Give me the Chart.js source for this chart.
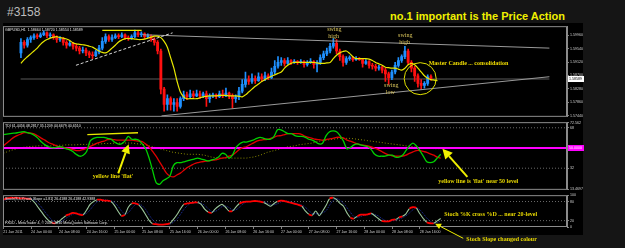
<!DOCTYPE html>
<html lang="en">
<head>
<meta charset="UTF-8">
<title>GBPUSD H1 - price action</title>
<script src="https://cdn.jsdelivr.net/npm/chart.js"></script>
<style>
  body { margin: 0; width: 625px; height: 248px; overflow: hidden; position: relative; background: #151515; font-family: "Liberation Sans", Arial, sans-serif; }
  #frame { position: absolute; left: 3px; top: 23px; width: 580px; height: 212px; background: #000; }
  canvas { position: absolute; left: 0; }
  #hdr { position: absolute; left: 7px; top: 6px; line-height: 12px; font-size: 12px; color: #bdbdbd; }
  #ttl { position: absolute; left: 390px; top: 11px; line-height: 11px; font-size: 11px; font-weight: bold; color: #f0f000; white-space: nowrap; }
</style>
</head>
<body>
<div id="hdr">#3158</div>
<div id="ttl">no.1 important is the Price Action</div>
<div id="frame"></div>
<canvas id="price" width="625" height="97" style="top:23px"></canvas>
<canvas id="tdi" width="625" height="74" style="top:119px"></canvas>
<canvas id="stoch" width="625" height="56" style="top:192px"></canvas>
<script>
// GBPUSD H1, 21 Jan 16:00 .. 28 Jan 22:00 (one entry per bar)
const open = [
  1.5941,1.5974,1.5965,1.5983,1.5989,1.5995,1.5992,1.5998,1.6004,1.5995,
  1.5998,1.5989,1.5983,1.5986,1.5974,1.5965,1.5971,1.5962,1.5956,1.5947,
  1.5950,1.5941,1.5935,1.5932,1.5944,1.5956,1.5977,1.5992,1.5983,1.5989,
  1.5995,1.5992,1.5998,1.5989,1.5986,1.5992,1.6004,1.5998,1.6001,1.5992,
  1.5995,1.5983,1.5974,1.5947,1.5827,1.5779,1.5797,1.5779,1.5785,1.5773,
  1.5797,1.5809,1.5803,1.5812,1.5806,1.5812,1.5806,1.5812,1.5797,1.5806,
  1.5809,1.5803,1.5812,1.5806,1.5815,1.5806,1.5797,1.5803,1.5821,1.5842,
  1.5857,1.5851,1.5860,1.5854,1.5866,1.5860,1.5869,1.5863,1.5881,1.5899,
  1.5911,1.5917,1.5908,1.5917,1.5911,1.5914,1.5911,1.5914,1.5905,1.5911,
  1.5914,1.5905,1.5911,1.5926,1.5938,1.5947,1.5962,1.5971,1.5947,1.5929,
  1.5911,1.5923,1.5926,1.5920,1.5923,1.5920,1.5908,1.5914,1.5902,1.5899,
  1.5893,1.5896,1.5887,1.5875,1.5863,1.5881,1.5902,1.5917,1.5929,1.5947,
  1.5911,1.5893,1.5869,1.5845,1.5839,1.5845,1.58664];
const high = [
  1.5986,1.5980,1.5989,1.5995,1.6001,1.6001,1.6004,1.6010,1.6007,1.6004,
  1.6001,1.5995,1.5992,1.5989,1.5980,1.5977,1.5974,1.5968,1.5962,1.5959,
  1.5956,1.5947,1.5944,1.5950,1.5965,1.5989,1.6001,1.5998,1.5998,1.6001,
  1.6001,1.6004,1.6001,1.5995,1.5998,1.6013,1.6010,1.6007,1.6004,1.6001,
  1.5998,1.5989,1.5980,1.5953,1.5833,1.5809,1.5803,1.5797,1.5797,1.5803,
  1.5821,1.5818,1.5824,1.5821,1.5824,1.5821,1.5818,1.5821,1.5812,1.5815,
  1.5812,1.5821,1.5824,1.5830,1.5818,1.5812,1.5809,1.5833,1.5857,1.5881,
  1.5869,1.5875,1.5869,1.5878,1.5875,1.5881,1.5875,1.5893,1.5917,1.5929,
  1.5926,1.5923,1.5926,1.5920,1.5920,1.5917,1.5920,1.5917,1.5917,1.5923,
  1.5917,1.5917,1.5935,1.5947,1.5956,1.5971,1.5986,1.5983,1.5953,1.5935,
  1.5929,1.5932,1.5929,1.5929,1.5926,1.5923,1.5920,1.5917,1.5908,1.5905,
  1.5902,1.5899,1.5893,1.5881,1.5887,1.5911,1.5926,1.5935,1.5962,1.5953,
  1.5917,1.5899,1.5875,1.5857,1.5851,1.5872,1.58720];
const low = [
  1.5926,1.5956,1.5959,1.5974,1.5983,1.5986,1.5989,1.5995,1.5989,1.5989,
  1.5983,1.5974,1.5977,1.5965,1.5956,1.5962,1.5953,1.5947,1.5938,1.5941,
  1.5932,1.5926,1.5923,1.5929,1.5938,1.5950,1.5971,1.5977,1.5977,1.5986,
  1.5986,1.5989,1.5983,1.5980,1.5983,1.5989,1.5992,1.5992,1.5986,1.5989,
  1.5977,1.5965,1.5938,1.5812,1.5758,1.5761,1.5761,1.5758,1.5758,1.5767,
  1.5791,1.5794,1.5797,1.5800,1.5803,1.5797,1.5800,1.5773,1.5785,1.5800,
  1.5797,1.5800,1.5800,1.5803,1.5797,1.5767,1.5785,1.5794,1.5815,1.5833,
  1.5842,1.5845,1.5845,1.5851,1.5851,1.5854,1.5857,1.5860,1.5875,1.5893,
  1.5902,1.5899,1.5905,1.5905,1.5908,1.5905,1.5908,1.5896,1.5899,1.5908,
  1.5893,1.5881,1.5905,1.5920,1.5932,1.5941,1.5956,1.5938,1.5917,1.5899,
  1.5905,1.5917,1.5914,1.5917,1.5917,1.5896,1.5905,1.5893,1.5890,1.5884,
  1.5887,1.5878,1.5851,1.5842,1.5857,1.5875,1.5896,1.5911,1.5923,1.5905,
  1.5881,1.5851,1.5833,1.5827,1.5830,1.5839,1.58554];
const close = [
  1.5974,1.5965,1.5983,1.5989,1.5995,1.5992,1.5998,1.6004,1.5995,1.5998,
  1.5989,1.5983,1.5986,1.5974,1.5965,1.5971,1.5962,1.5956,1.5947,1.5950,
  1.5941,1.5935,1.5932,1.5944,1.5956,1.5977,1.5992,1.5983,1.5989,1.5995,
  1.5992,1.5998,1.5989,1.5986,1.5992,1.6004,1.5998,1.6001,1.5992,1.5995,
  1.5983,1.5974,1.5947,1.5827,1.5779,1.5797,1.5779,1.5785,1.5773,1.5797,
  1.5809,1.5803,1.5812,1.5806,1.5812,1.5806,1.5812,1.5797,1.5806,1.5809,
  1.5803,1.5812,1.5806,1.5815,1.5806,1.5797,1.5803,1.5821,1.5842,1.5857,
  1.5851,1.5860,1.5854,1.5866,1.5860,1.5869,1.5863,1.5881,1.5899,1.5911,
  1.5917,1.5908,1.5917,1.5911,1.5914,1.5911,1.5914,1.5905,1.5911,1.5914,
  1.5905,1.5911,1.5926,1.5938,1.5947,1.5962,1.5971,1.5947,1.5929,1.5911,
  1.5923,1.5926,1.5920,1.5923,1.5920,1.5908,1.5914,1.5902,1.5899,1.5893,
  1.5896,1.5887,1.5875,1.5863,1.5881,1.5902,1.5917,1.5929,1.5947,1.5911,
  1.5893,1.5869,1.5845,1.5839,1.5845,1.5866,1.58589];
// yellow moving average (runs two bars past the last candle)
const ma = [
  1.5908,1.5920,1.5929,1.5938,1.5947,1.5956,1.5968,1.5977,1.5983,1.59875,
  1.59905,1.5992,1.5989,1.59875,1.59845,1.5980,1.59725,1.59695,1.5968,1.59665,
  1.5965,1.5962,1.5959,1.5953,1.5947,1.59425,1.5941,1.5947,1.5956,1.5965,
  1.59755,1.59815,1.5986,1.5986,1.5986,1.59845,1.5983,1.5983,1.59845,1.59875,
  1.59905,1.59935,1.59935,1.5989,1.5977,1.5959,1.5926,1.5893,1.5851,1.5818,
  1.5803,1.5797,1.5797,1.5797,1.5797,1.5800,1.5803,1.58045,1.5806,1.5806,
  1.5806,1.58075,1.58075,1.58075,1.5806,1.5806,1.5806,1.58045,1.5803,1.5809,
  1.5818,1.5827,1.5836,1.58435,1.5851,1.5857,1.5863,1.58675,1.5872,1.58765,
  1.5881,1.5893,1.5902,1.5908,1.5911,1.5911,1.5911,1.5911,1.5911,1.5911,
  1.5911,1.59095,1.5908,1.5908,1.59095,1.5911,1.5923,1.59335,1.5941,1.59455,
  1.5947,1.59395,1.5929,1.5923,1.5923,1.5923,1.5923,1.59215,1.5917,1.5911,
  1.59065,1.5902,1.5896,1.58945,1.5893,1.5893,1.5890,1.5887,1.5893,1.59035,
  1.5908,1.59035,1.5893,1.5881,1.5869,1.58615,1.5857,1.58555,1.5854];

// TDI: RSI price line (green), trade signal (red), market base line (dotted)
const tdiGreen = [
  62.0,62.4,62.8,63.2,63.6,64.1,64.5,63.6,62.8,61.1,
  58.6,55.3,52.8,51.1,50.3,50.3,51.1,50.7,49.4,48.6,
  46.9,44.4,42.7,43.6,46.9,56.1,58.6,59.5,59.5,59.5,
  58.6,57.8,55.3,53.6,53.6,56.1,60.3,57.8,57.8,57.0,
  53.6,49.4,41.0,30.1,19.3,17.6,20.9,22.6,25.1,34.3,
  36.9,36.9,37.7,38.5,39.4,40.2,41.0,40.2,39.4,38.5,
  39.4,40.2,41.9,45.2,44.4,41.0,43.6,50.3,53.6,55.3,
  55.3,56.1,57.0,58.6,59.5,58.6,57.8,57.8,60.3,66.2,
  66.2,64.5,62.8,62.8,61.1,60.3,60.3,59.5,57.8,57.0,
  55.3,53.6,54.4,61.1,64.5,65.3,64.5,61.1,56.1,49.4,
  50.3,52.8,53.6,52.8,51.9,51.1,48.6,44.4,42.7,42.7,
  42.7,43.6,43.6,41.9,41.9,43.6,47.7,51.9,54.4,51.9,
  47.7,42.7,37.7,36.9,37.7,41.0,44.4];
const tdiRed = [
  51.9,54.4,57.0,59.5,61.1,62.4,63.6,63.6,63.2,62.4,
  60.7,58.6,57.0,54.9,53.6,52.4,51.1,50.7,49.8,49.4,
  48.6,47.7,47.7,48.6,49.8,51.5,52.8,54.4,55.3,56.1,
  57.4,57.8,57.4,57.0,57.0,57.0,57.0,57.0,56.5,56.1,
  55.7,53.6,51.1,46.9,42.7,37.7,32.7,27.6,25.1,24.3,
  26.0,27.6,30.1,32.7,34.3,36.0,36.9,37.7,38.1,38.5,
  39.0,39.4,40.2,41.0,41.5,42.7,43.6,46.1,48.6,50.3,
  51.1,52.8,54.4,56.1,57.0,57.4,57.8,58.6,59.5,60.7,
  61.1,62.0,62.8,62.8,62.8,62.8,62.0,60.3,59.5,58.6,
  57.8,57.4,57.0,57.4,58.2,58.6,59.5,59.5,59.0,57.0,
  56.1,54.9,53.6,52.8,52.4,51.9,51.1,49.8,48.6,46.9,
  45.2,44.0,43.1,42.7,42.7,42.7,43.6,45.2,46.5,47.7,
  47.7,46.9,46.1,44.8,43.6,41.9,41.0];
const tdiBase = [
  45.2,46.5,47.7,48.6,49.4,50.3,50.7,51.1,51.5,51.5,
  51.9,51.9,51.9,51.9,51.9,52.4,52.4,52.4,52.8,52.8,
  52.8,52.8,53.2,53.2,53.2,53.6,53.6,53.6,53.6,54.0,
  54.0,54.0,54.4,54.4,54.4,54.4,54.4,54.4,54.0,53.6,
  53.2,52.8,51.9,51.1,50.3,49.4,48.6,47.7,46.9,46.1,
  45.7,45.2,44.8,44.4,44.4,44.4,44.4,44.0,43.6,42.7,
  41.9,41.5,41.0,41.0,41.0,41.0,41.0,41.0,41.0,41.0,
  41.0,41.5,41.9,42.7,43.6,44.8,46.1,46.9,47.7,48.6,
  49.4,50.3,51.1,51.5,51.9,52.8,53.2,53.6,54.0,54.4,
  55.3,56.1,56.5,57.0,57.4,57.8,58.2,58.6,58.6,58.6,
  58.6,58.2,57.8,57.4,57.0,56.5,56.1,55.7,55.3,54.9,
  54.4,54.0,53.6,53.2,52.8,52.4,51.9,51.5,51.1,50.7,
  50.3,50.3,49.8,49.8,49.4,49.4,49.4];

// Stochastic %K and %D
const stochK = [
  85.8,90.2,91.7,91.7,91.7,90.2,90.2,88.8,87.3,76.9,
  62.1,47.3,32.5,20.7,13.3,11.8,17.8,26.6,35.5,39.9,
  44.4,42.9,38.5,38.5,53.3,71.0,79.9,85.8,85.8,82.9,
  82.9,79.9,68.1,50.3,35.5,38.5,62.1,74.0,74.0,69.5,
  56.2,38.5,20.7,10.4,8.9,7.4,7.4,8.9,11.8,23.7,
  38.5,56.2,71.0,74.0,75.5,76.9,76.9,71.0,56.2,47.3,
  44.4,56.2,65.1,71.0,62.1,50.3,50.3,62.1,74.0,78.4,
  79.9,79.9,81.4,81.4,79.9,76.9,71.0,65.1,74.0,79.9,
  82.9,81.4,78.4,75.5,72.5,69.5,65.1,50.3,39.9,37.0,
  50.3,35.5,50.3,68.1,88.8,91.7,85.8,74.0,65.1,44.4,
  29.6,26.6,34.0,38.5,38.5,39.9,42.9,35.5,26.6,19.2,
  17.8,17.8,22.2,23.7,29.6,34.0,41.4,57.7,62.1,59.2,
  41.4,26.6,14.8,11.8,11.8,19.2,26.6];
const stochD = [
  84,86,89,91,91,91,91,90,89,84,
  75,62,47,34,22,15,14,19,27,34,
  40,42,42,40,43,54,68,79,84,85,
  84,82,77,66,51,41,45,58,70,73,
  67,55,38,23,13,9,8,8,9,15,
  25,39,55,67,74,76,76,75,68,58,
  49,49,55,64,66,61,54,54,62,72,
  78,80,80,81,81,79,76,70,70,73,
  79,81,81,78,75,72,69,62,52,42,
  42,41,45,51,69,83,89,84,75,61,
  46,33,30,33,37,39,41,39,35,27,
  21,18,20,21,25,29,35,44,54,60,
  54,42,28,18,13,14,19];

// axis labels
const dateLabels = ['21 Jan 2011','24 Jan 00:00','24 Jan 08:00','24 Jan 16:00','25 Jan 00:00','25 Jan 08:00',
  '25 Jan 16:00','26 Jan 00:00','26 Jan 08:00','26 Jan 16:00','27 Jan 00:00','27 Jan 08:00','27 Jan 16:00',
  '28 Jan 00:00','28 Jan 08:00','28 Jan 16:00'];
const dateTickBars = [0, 8, 16, 24, 32, 40, 48, 56, 64, 72, 80, 88, 96, 104, 112, 120];
const priceTicks = [1.5744, 1.5786, 1.5828, 1.5870, 1.5912, 1.5954, 1.5996];
const tdiTicks = [13.4697, 32, 68, 72.562];
const stochTicks = [0, 20, 80, 100];
const lastPrice = 1.58589;

const X_MIN = -0.1, X_MAX = 162.4;
const BULL = '#1e90ff', BEAR = '#ff1010';
const AXIS_FONT = { family: 'Liberation Sans', size: 3.6 };
const SMALL = '3.6px "Liberation Sans"';
const NOTE = 'bold 6px "Liberation Serif"';

const bars = close.map((c, i) => i);
const series = arr => arr.map((v, i) => ({ x: i, y: v }));
const level = v => [{ x: X_MIN, y: v }, { x: X_MAX, y: v }];

function xAxis(show) {
  return {
    type: 'linear', min: X_MIN, max: X_MAX, display: show,
    afterBuildTicks: s => { s.ticks = dateTickBars.map(v => ({ value: v })); },
    afterFit: s => { if (show) s.height = 21; },
    grid: { display: true, drawOnChartArea: false, tickLength: 2, color: '#808080' },
    border: { display: false },
    ticks: { color: '#cfcfcf', font: AXIS_FONT, align: 'start', padding: 1, maxRotation: 0, autoSkip: false,
             callback: (v, i) => dateLabels[i] }
  };
}

function yAxis(min, max, ticks, fmt) {
  return {
    position: 'right', min, max,
    afterBuildTicks: s => { s.ticks = ticks.map(v => ({ value: v })); },
    afterFit: s => { s.width = 16; },
    grid: { display: true, drawOnChartArea: false, tickLength: 2, color: '#808080' },
    border: { display: true, color: '#8a8a8a' },
    ticks: { color: '#cfcfcf', font: AXIS_FONT, padding: 1, autoSkip: false, crossAlign: 'near', callback: fmt }
  };
}

// panel frame
const framePlugin = {
  id: 'frame',
  afterDraw(chart) {
    const { ctx, chartArea: a } = chart;
    ctx.save();
    ctx.strokeStyle = '#8c8c8c';
    ctx.lineWidth = 1;
    ctx.strokeRect(a.left + 0.5, a.top + 0.5, a.width - 1, a.height - 1);
    ctx.restore();
  }
};

// hand-drawn notes, positioned in data units
const notesPlugin = {
  id: 'notes',
  afterDraw(chart, args, opts) {
    const { ctx, chartArea: a, scales: { x, y } } = chart;
    ctx.save();
    for (const n of opts.items || []) {
      const px = x.getPixelForValue(n.x), py = y.getPixelForValue(n.y);
      if (n.type === 'text') {
        ctx.font = n.font; ctx.fillStyle = n.color;
        ctx.textAlign = n.align || 'left'; ctx.textBaseline = 'middle';
        ctx.fillText(n.text, px, py);
      } else if (n.type === 'circle') {
        ctx.strokeStyle = n.color; ctx.lineWidth = 1;
        ctx.beginPath(); ctx.arc(px, py, n.r, 0, Math.PI * 2); ctx.stroke();
      } else if (n.type === 'arrow') {
        const tx = x.getPixelForValue(n.x2), ty = y.getPixelForValue(n.y2);
        const ang = Math.atan2(ty - py, tx - px);
        const bx = tx - Math.cos(ang) * n.head, by = ty - Math.sin(ang) * n.head;
        ctx.strokeStyle = n.color; ctx.fillStyle = n.color; ctx.lineWidth = n.width;
        ctx.beginPath(); ctx.moveTo(px, py); ctx.lineTo(bx, by); ctx.stroke();
        ctx.beginPath(); ctx.moveTo(tx, ty);
        ctx.lineTo(bx + Math.sin(ang) * n.half, by - Math.cos(ang) * n.half);
        ctx.lineTo(bx - Math.sin(ang) * n.half, by + Math.cos(ang) * n.half);
        ctx.closePath(); ctx.fill();
      } else if (n.type === 'tag') {
        ctx.fillStyle = n.bg; ctx.fillRect(a.right + 1, py - 3, 16, 6);
        ctx.font = SMALL; ctx.fillStyle = n.color;
        ctx.textAlign = 'left'; ctx.textBaseline = 'middle';
        ctx.fillText(n.text, a.right + 2, py);
      } else if (n.type === 'caption') {
        ctx.font = SMALL; ctx.fillStyle = '#e8e8e8';
        ctx.textAlign = 'left'; ctx.textBaseline = 'top';
        ctx.fillText(n.text, a.left + 2, n.bottom ? a.bottom - 6 : a.top + 2);
      }
    }
    ctx.restore();
  }
};

function options(showX, yScale, padBottom, items) {
  return {
    responsive: false, animation: false, events: [], devicePixelRatio: 1,
    layout: { padding: { left: 3, right: 42, top: 1, bottom: padBottom } },
    scales: { x: xAxis(showX), y: yScale },
    plugins: { legend: { display: false }, tooltip: { enabled: false }, notes: { items } }
  };
}

const lineStyle = { type: 'line', pointRadius: 0, fill: false, order: 1 };

// ---------- price window ----------
new Chart(document.getElementById('price'), {
  type: 'bar',
  data: {
    datasets: [
      { data: bars.map(i => ({ x: i, y: [low[i], high[i]] })), barThickness: 1, grouped: false, order: 3,
        backgroundColor: bars.map(i => close[i] >= open[i] ? BULL : BEAR) },
      { data: bars.map(i => ({ x: i, y: [open[i], close[i]] })), barThickness: 2.2, grouped: false, order: 2, minBarLength: 1,
        backgroundColor: bars.map(i => close[i] >= open[i] ? BULL : BEAR) },
      { ...lineStyle, data: level(lastPrice), borderColor: '#5a5a5a', borderWidth: 1, order: 4 },
      { ...lineStyle, data: series(ma), borderColor: '#e8e800', borderWidth: 1.2, tension: 0.3 },
      { ...lineStyle, data: [{ x: 16.9, y: 1.5902 }, { x: 46.6, y: 1.6004 }], borderColor: '#d8d8d8', borderWidth: 1, borderDash: [3, 2] },
      { ...lineStyle, data: [{ x: 37.4, y: 1.5998 }, { x: X_MAX, y: 1.5956 }], borderColor: '#9a9a9a', borderWidth: 1 },
      { ...lineStyle, data: [{ x: 43.2, y: 1.5743 }, { x: X_MAX, y: 1.5866 }], borderColor: '#9a9a9a', borderWidth: 1 },
      { ...lineStyle, data: [{ x: 25, y: 1.60115 }, { x: 37.1, y: 1.60115 }], borderColor: '#e8e800', borderWidth: 1.2 }
    ]
  },
  options: options(false, yAxis(1.5740, 1.6025, priceTicks, v => v.toFixed(5)), 1, [
    { type: 'caption', text: 'GBPUSD,H1  1.58664 1.58720 1.58554 1.58589' },
    { type: 'text', text: 'swing', x: 96.3, y: 1.60145, align: 'center', font: '6px "Liberation Serif"', color: '#d8c35a' },
    { type: 'text', text: 'high', x: 96.1, y: 1.5992, align: 'center', font: '6px "Liberation Serif"', color: '#d8c35a' },
    { type: 'text', text: 'swing', x: 118.1, y: 1.59965, align: 'center', font: '6px "Liberation Serif"', color: '#d8c35a' },
    { type: 'text', text: 'high', x: 117.9, y: 1.5974, align: 'center', font: '6px "Liberation Serif"', color: '#d8c35a' },
    { type: 'text', text: 'swing', x: 113.8, y: 1.5839, align: 'center', font: '6px "Liberation Serif"', color: '#d8c35a' },
    { type: 'text', text: 'low', x: 113.5, y: 1.58165, align: 'center', font: '6px "Liberation Serif"', color: '#d8c35a' },
    { type: 'text', text: 'Master Candle ... consolidation', x: 125.3, y: 1.5908, font: NOTE, color: '#f0dc00' },
    { type: 'circle', x: 122.7, y: 1.5860, r: 16, color: '#e0e000' },
    { type: 'tag', y: lastPrice, text: lastPrice.toFixed(5), bg: '#ffffff', color: '#000000' }
  ]),
  plugins: [framePlugin, notesPlugin]
});

// ---------- TDI window ----------
new Chart(document.getElementById('tdi'), {
  type: 'line',
  data: {
    datasets: [
      { ...lineStyle, data: level(68), borderColor: '#6a6a6a', borderWidth: 1, borderDash: [1, 2], order: 5 },
      { ...lineStyle, data: level(32), borderColor: '#6a6a6a', borderWidth: 1, borderDash: [1, 2], order: 5 },
      { ...lineStyle, data: series(tdiBase), borderColor: '#8a8a00', borderWidth: 1, borderDash: [1, 2], order: 4 },
      { ...lineStyle, data: level(50), borderColor: '#ff00ff', borderWidth: 2, order: 3 },
      { ...lineStyle, data: series(tdiRed), borderColor: '#e00000', borderWidth: 1.3, tension: 0.3, order: 2 },
      { ...lineStyle, data: series(tdiGreen), borderColor: '#00d000', borderWidth: 1.3, tension: 0.3, order: 1 },
      { ...lineStyle, data: [{ x: 24.2, y: 62.0 }, { x: 38.8, y: 63.6 }], borderColor: '#e8e800', borderWidth: 1.3, order: 0 }
    ]
  },
  options: options(false, yAxis(12.74, 73.02, tdiTicks, v => String(v)), 1, [
    { type: 'caption', text: 'TDI 61.4456 48.2817 35.1209 44.6679 40.6510' },
    { type: 'text', text: "yellow line 'flat'", x: 31.6, y: 25.1, align: 'center', font: NOTE, color: '#e8d800' },
    { type: 'arrow', x: 33.1, y: 27.4, x2: 36.1, y2: 53.4, width: 2, head: 9, half: 4.5, color: '#f0f000' },
    { type: 'text', text: "yellow line is 'flat' near 50 level", x: 125.3, y: 20.5, font: NOTE, color: '#e8d800' },
    { type: 'arrow', x: 133.7, y: 24.3, x2: 126.5, y2: 49.4, width: 2, head: 10, half: 5, color: '#f0f000' },
    { type: 'tag', y: 50, text: '50.0000', bg: '#ff00ff', color: '#ffffff' }
  ]),
  plugins: [framePlugin, notesPlugin]
});

// ---------- Stochastic window ----------
new Chart(document.getElementById('stoch'), {
  type: 'line',
  data: {
    datasets: [
      { ...lineStyle, data: level(80), borderColor: '#6a6a6a', borderWidth: 1, borderDash: [1, 2], order: 5 },
      { ...lineStyle, data: level(20), borderColor: '#6a6a6a', borderWidth: 1, borderDash: [1, 2], order: 5 },
      { ...lineStyle, data: series(stochD), borderColor: '#1c2fa0', borderWidth: 1, borderDash: [1, 1], tension: 0.3, order: 3 },
      { ...lineStyle, data: series(stochK), borderColor: '#9cc79c', borderWidth: 1.1, tension: 0.3, order: 2,
        segment: {
          borderColor: c => Math.abs(c.p1.parsed.y - c.p0.parsed.y) < 5 ? '#ff0000' : '#9cc79c',
          borderWidth: c => Math.abs(c.p1.parsed.y - c.p0.parsed.y) < 5 ? 1.8 : 1.1
        } }
    ]
  },
  options: options(true, yAxis(0, 100, stochTicks, v => String(v)), 0, [
    { type: 'caption', text: 'Stoch(8,3,3) with Slope =1.81] 26.4188 26.4188 42.9388' },
    { type: 'caption', text: 'FXDD - MetaTrader 4, \u00a9 2001-2010 MetaQuotes Software Corp.', bottom: true },
    { type: 'text', text: 'Stoch %K cross %D ... near 20-level', x: 127.0, y: 38.5, font: NOTE, color: '#e8d800' },
    { type: 'text', text: 'Stoch Slope changed colour', x: 133.4, y: -40.2, font: NOTE, color: '#e8d800' },
    { type: 'arrow', x: 132.5, y: -35.5, x2: 124.4, y2: 10.4, width: 1, head: 6, half: 3, color: '#f0f000' }
  ]),
  plugins: [framePlugin, notesPlugin]
});
</script>
</body>
</html>
